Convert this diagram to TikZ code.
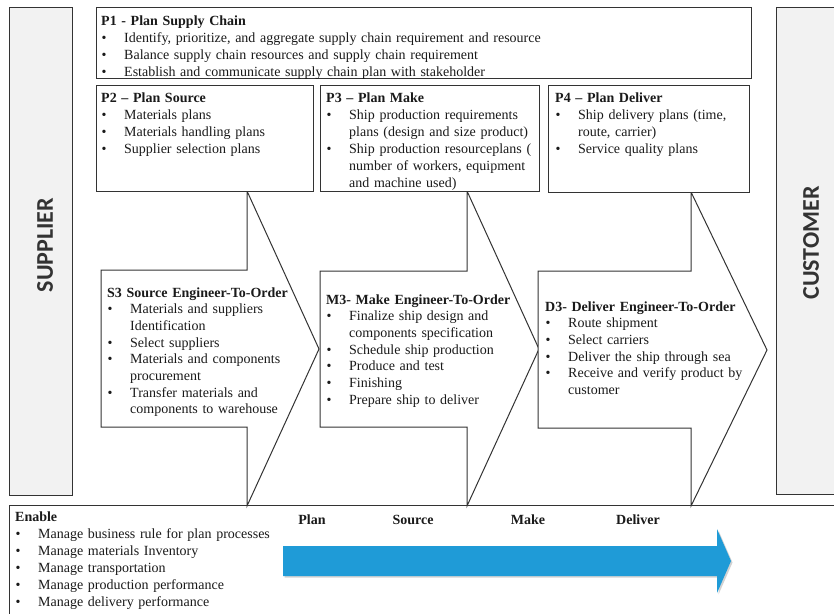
\documentclass[tikz,border=0pt]{standalone}
\usepackage{fontspec}
\setmainfont{Liberation Serif}
\newfontfamily\calib{Carlito}
\definecolor{ln}{HTML}{333333}
\definecolor{tx}{HTML}{1A1A1A}
\definecolor{sidegray}{HTML}{F2F2F2}
\definecolor{flowblue}{HTML}{1F9BD7}
\newlength\bulind
\setlength\bulind{23pt}
\newcommand\bi[1]{\par\noindent\hangindent=\bulind\hangafter=1\makebox[\bulind][l]{\hspace{0.5pt}{\fontsize{14}{14}\selectfont\textbullet}}#1\par}
\newcommand\ttl[1]{\noindent\textbf{#1}\par}
\tikzset{
  boxline/.style={draw=ln, line width=1pt},
  sidebox/.style={boxline, fill=sidegray},
  planbox/.style={boxline, fill=white},
  blockarrow/.style={boxline, fill=white, line join=miter},
  txt/.style={anchor=base west, inner sep=0pt, text width=#1, align=left, text=tx,
    font=\fontsize{14}{17}\selectfont},
  atxt/.style={anchor=base west, inner sep=0pt, text width=#1, align=left, text=tx,
    font=\fontsize{14}{16.7}\selectfont},
  sidelabel/.style={inner sep=0pt, rotate=90, text=ln, font=\calib\bfseries\fontsize{24}{24}\selectfont},
  flowlabel/.style={inner sep=0pt, text=tx, font=\bfseries\fontsize{14}{15}\selectfont}
}
\begin{document}
\begin{tikzpicture}[x=1pt,y=-1pt]
\useasboundingbox (0,0) rectangle (834,613);
\clip (0,0) rectangle (834,613);
% enable box
\draw[boxline, fill=white] (9,505) rectangle (850,630);
% side boxes
\draw[sidebox] (9,7) rectangle (72,495);
\node[sidelabel] (supplier) at (45,245) {SUPPLIER};
\draw[sidebox] (776,7) rectangle (850,494);
\node[sidelabel] (customer) at (811,243) {CUSTOMER};
% block arrows
\draw[blockarrow] (101,270) -- (247,270) -- (247,191) -- (319,349) -- (247,506) -- (247,427) -- (101,427) -- cycle;
\draw[blockarrow] (320,271) -- (467,271) -- (467,191) -- (539,349) -- (467,506) -- (467,427) -- (320,427) -- cycle;
\draw[blockarrow] (538,271) -- (691,271) -- (691,192) -- (767,350) -- (691,506) -- (691,428) -- (538,428) -- cycle;
% plan boxes
\draw[planbox] (96,7) rectangle (751,78);
\draw[planbox] (96,85) rectangle (313,191);
\draw[planbox] (320,85) rectangle (539,191);
\draw[planbox] (548,85) rectangle (749,192);
% texts
\node[txt=640pt] (p1) at (101,25) {\ttl{P1 - Plan Supply Chain}
\bi{Identify, prioritize, and aggregate supply chain requirement and resource}
\bi{Balance supply chain resources and supply chain requirement}
\bi{Establish and communicate supply chain plan with stakeholder}};
\node[txt=210pt] (p2) at (101,102) {\ttl{P2 -- Plan Source}
\bi{Materials plans}
\bi{Materials handling plans}
\bi{Supplier selection plans}};
\node[txt=212pt] (p3) at (326,102) {\ttl{P3 -- Plan Make}
\bi{Ship production requirements\newline plans (design and size product)}
\bi{Ship production resourceplans (\newline number of workers, equipment\newline and machine used)}};
\node[txt=195pt] (p4) at (555,102) {\ttl{P4 -- Plan Deliver}
\bi{Ship delivery plans (time,\newline route, carrier)}
\bi{Service quality plans}};
\node[atxt=200pt] (s3) at (107,297) {\ttl{S3 Source Engineer-To-Order}
\bi{Materials and suppliers\newline Identification}
\bi{Select suppliers}
\bi{Materials and components\newline procurement}
\bi{Transfer materials and\newline components to warehouse}};
\node[atxt=200pt] (m3) at (326,304) {\ttl{M3- Make Engineer-To-Order}
\bi{Finalize ship design and\newline components specification}
\bi{Schedule ship production}
\bi{Produce and test}
\bi{Finishing}
\bi{Prepare ship to deliver}};
\node[atxt=220pt] (d3) at (545,311) {\ttl{D3- Deliver Engineer-To-Order}
\bi{Route shipment}
\bi{Select carriers}
\bi{Deliver the ship through sea}
\bi{Receive and verify product by\newline customer}};
\node[txt=260pt] (enable) at (15,521) {\ttl{Enable}
\bi{Manage business rule for plan processes}
\bi{Manage materials Inventory}
\bi{Manage transportation}
\bi{Manage production performance}
\bi{Manage delivery performance}};
% flow arrow
\fill[black!35, opacity=0.5] (284.5,547.5) -- (718.5,547.5) -- (718.5,530.5) -- (732.5,562.5) -- (718.5,594.5) -- (718.5,577.5) -- (284.5,577.5) -- cycle;
\fill[flowblue] (283,546) -- (717,546) -- (717,529) -- (731,561) -- (717,593) -- (717,576) -- (283,576) -- cycle;
\node[flowlabel] (plan) at (312,520) {Plan};
\node[flowlabel] (source) at (413,520) {Source};
\node[flowlabel] (make) at (528,520) {Make};
\node[flowlabel] (deliver) at (638,520) {Deliver};
\end{tikzpicture}
\end{document}
